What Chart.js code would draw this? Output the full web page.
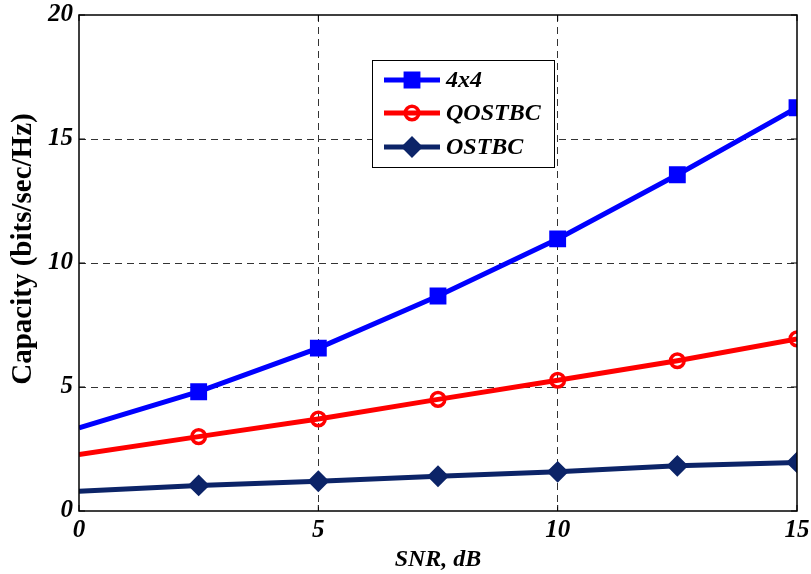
<!DOCTYPE html>
<html>
<head>
<meta charset="utf-8">
<script src="https://cdn.jsdelivr.net/npm/chart.js@4/dist/chart.umd.min.js"></script>
<style>
  html, body { margin: 0; padding: 0; background: #fff; }
  #wrap { width: 811px; height: 574px; }
</style>
</head>
<body>
<div id="wrap"><canvas id="c" width="811" height="574"></canvas></div>
<script>
// SNR sweep (dB) and ergodic capacity per scheme (bits/sec/Hz)
const snrDb      = [0, 2.5, 5, 7.5, 10, 12.5, 15];
const cap4x4     = [3.35, 4.81, 6.57, 8.67, 10.97, 13.56, 16.26];
const capQostbc  = [2.28, 3.00, 3.71, 4.50, 5.27, 6.06, 6.94];
const capOstbc   = [0.80, 1.03, 1.20, 1.40, 1.58, 1.82, 1.96];
const seriesNames = ['4x4', 'QOSTBC', 'OSTBC'];
const xTicks = [0, 5, 10, 15];
const yTicks = [0, 5, 10, 15, 20];
const xTitle = 'SNR, dB';
const yTitle = 'Capacity (bits/sec/Hz)';

const SERIF = '"Liberation Serif", "Times New Roman", serif';

function pts(ys) { return snrDb.map((x, i) => ({ x: x, y: ys[i] })); }
// no marker on the first sample
function radii(r) { return snrDb.map((_, i) => i === 0 ? 0 : r); }

const styles = [
  { color: '#0000ff', fill: '#0000ff', style: 'rect',    r: 10.5, bw: 2,   lw: 5 },
  { color: '#ff0000', fill: 'rgba(0,0,0,0)', style: 'circle', r: 6.8, bw: 3.5, lw: 5 },
  { color: '#0c2468', fill: '#0c2468', style: 'rectRot', r: 9.5,  bw: 2,   lw: 5 }
];
const series = [cap4x4, capQostbc, capOstbc];

const datasets = series.map((ys, k) => ({
  label: seriesNames[k],
  data: pts(ys),
  borderColor: styles[k].color,
  backgroundColor: styles[k].fill,
  borderWidth: styles[k].lw,
  pointStyle: styles[k].style,
  pointRadius: radii(styles[k].r),
  pointHoverRadius: radii(styles[k].r),
  pointBorderWidth: styles[k].bw,
  pointBorderColor: styles[k].color,
  pointBackgroundColor: styles[k].fill,
  tension: 0,
  fill: false
}));

// marker drawing used by the in-plot legend
function drawMarker(ctx, s, x, y) {
  ctx.save();
  ctx.lineWidth = s.bw;
  ctx.strokeStyle = s.color;
  ctx.fillStyle = s.fill;
  ctx.beginPath();
  if (s.style === 'rect') {
    const h = Math.SQRT1_2 * s.r;
    ctx.rect(x - h, y - h, 2 * h, 2 * h);
  } else if (s.style === 'circle') {
    ctx.arc(x, y, s.r, 0, Math.PI * 2);
  } else {
    ctx.moveTo(x - s.r, y); ctx.lineTo(x, y - s.r);
    ctx.lineTo(x + s.r, y); ctx.lineTo(x, y + s.r);
    ctx.closePath();
  }
  ctx.fill();
  ctx.stroke();
  ctx.restore();
}

// axes box with inward tick marks, plus the rotated y-axis label
const boxPlugin = {
  id: 'axesBox',
  afterDatasetsDraw(chart, args, opts) {
    const { ctx, chartArea: a, scales } = chart;
    ctx.save();
    ctx.strokeStyle = '#000';
    ctx.lineWidth = 1.5;
    ctx.setLineDash([]);
    ctx.strokeRect(a.left, a.top, a.right - a.left, a.bottom - a.top);
    ctx.lineWidth = 1;
    const tl = 6;
    xTicks.forEach(v => {
      const px = scales.x.getPixelForValue(v);
      ctx.beginPath();
      ctx.moveTo(px, a.bottom); ctx.lineTo(px, a.bottom - tl);
      ctx.moveTo(px, a.top); ctx.lineTo(px, a.top + tl);
      ctx.stroke();
    });
    yTicks.forEach(v => {
      const py = scales.y.getPixelForValue(v);
      ctx.beginPath();
      ctx.moveTo(a.left, py); ctx.lineTo(a.left + tl, py);
      ctx.moveTo(a.right, py); ctx.lineTo(a.right - tl, py);
      ctx.stroke();
    });
    // y-axis label
    ctx.translate(opts.yTitleX, opts.yTitleY);
    ctx.rotate(-Math.PI / 2);
    ctx.fillStyle = '#000';
    ctx.font = 'bold 29px ' + SERIF;
    ctx.textAlign = 'center';
    ctx.textBaseline = 'middle';
    ctx.fillText(yTitle, 0, 0);
    ctx.restore();
  }
};

// legend box inside the plot area
const legendPlugin = {
  id: 'insetLegend',
  afterDraw(chart, args, opts) {
    const ctx = chart.ctx;
    const { x, y, w, h, rows } = opts;
    ctx.save();
    ctx.fillStyle = '#fff';
    ctx.fillRect(x, y, w, h);
    ctx.strokeStyle = '#000';
    ctx.lineWidth = 1;
    ctx.strokeRect(x + 0.5, y + 0.5, w, h);
    chart.data.datasets.forEach((ds, k) => {
      const s = styles[k];
      const ry = y + rows[k];
      ctx.strokeStyle = s.color;
      ctx.lineWidth = s.lw;
      ctx.beginPath();
      ctx.moveTo(x + 12, ry);
      ctx.lineTo(x + 68, ry);
      ctx.stroke();
      drawMarker(ctx, s, x + 40, ry);
      ctx.fillStyle = '#000';
      ctx.font = 'italic bold 24px ' + SERIF;
      ctx.textAlign = 'left';
      ctx.textBaseline = 'middle';
      ctx.fillText(ds.label, x + 74, ry + 1);
    });
    ctx.restore();
  }
};

const gridColor = (ctx) => {
  const v = ctx.tick && ctx.tick.value;
  const sc = ctx.scale;
  return (v === sc.min || v === sc.max) ? 'rgba(0,0,0,0)' : '#333';
};

const tickFont = { family: SERIF, size: 25, style: 'italic', weight: 'bold' };

new Chart(document.getElementById('c'), {
  type: 'line',
  data: { datasets: datasets },
  plugins: [boxPlugin, legendPlugin],
  options: {
    responsive: false,
    animation: false,
    events: [],
    layout: { padding: { left: 0, right: 14, top: 15, bottom: 0 } },
    plugins: {
      legend: { display: false },
      tooltip: { enabled: false },
      axesBox: { yTitleX: 24, yTitleY: 249 },
      insetLegend: { x: 372, y: 60, w: 182, h: 107, rows: [20, 53, 87] }
    },
    scales: {
      x: {
        type: 'linear',
        min: 0, max: 15,
        afterBuildTicks: (s) => { s.ticks = xTicks.map(v => ({ value: v })); },
        afterFit: (s) => { s.height = 63; s.paddingLeft = 0; s.paddingRight = 0; },
        ticks: { color: '#000', padding: 5, maxRotation: 0, font: tickFont },
        grid: { color: gridColor, lineWidth: 1, drawTicks: false },
        border: { display: false, dash: [7, 5] },
        title: {
          display: true,
          text: xTitle,
          color: '#000',
          padding: { top: 0, bottom: 0 },
          font: { family: SERIF, size: 24, style: 'italic', weight: 'bold' }
        }
      },
      y: {
        type: 'linear',
        min: 0, max: 20,
        afterBuildTicks: (s) => { s.ticks = yTicks.map(v => ({ value: v })); },
        afterFit: (s) => { s.width = 79; s.paddingTop = 0; s.paddingBottom = 0; },
        ticks: { color: '#000', padding: 6, font: tickFont },
        grid: { color: gridColor, lineWidth: 1, drawTicks: false },
        border: { display: false, dash: [7, 5] }
      }
    }
  }
});
</script>
</body>
</html>
